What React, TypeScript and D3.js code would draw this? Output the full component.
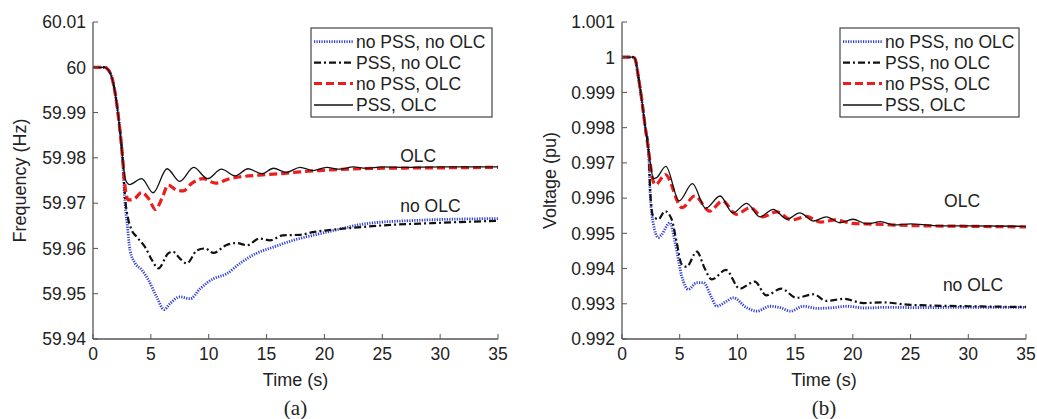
import React from "react";
import * as d3 from "d3";

type P = [number, number];

// ---------- Data: frequency (Hz) ----------
const freqDrop: P[] = [[0, 60], [1.0, 60], [1.3, 59.9995], [1.6, 59.998], [1.9, 59.9945], [2.2, 59.989], [2.55, 59.9802]];
const freqPssOlc: P[] = [[2.8, 59.9752], [3.15, 59.9741], [4.2, 59.9754], [5.2, 59.9723], [6.4, 59.9776], [7.5, 59.9748], [8.7, 59.9779], [9.9, 59.9754], [11.1, 59.9775], [12.3, 59.976], [13.4, 59.9776], [14.6, 59.9765], [15.6, 59.9777], [16.7, 59.9768], [17.9, 59.9779], [19.0, 59.9772], [20.2, 59.9779], [21.3, 59.9775], [22.5, 59.978], [23.6, 59.9777], [25, 59.978], [27, 59.9779], [30, 59.978], [35, 59.978]];
const freqNoPssOlc: P[] = [[2.8, 59.973], [3.05, 59.9707], [3.6, 59.971], [4.2, 59.9724], [4.8, 59.971], [5.4, 59.9686], [5.95, 59.971], [6.5, 59.974], [7.2, 59.9729], [7.8, 59.9727], [8.5, 59.9743], [9.5, 59.9754], [10.6, 59.9744], [11.8, 59.9754], [12.7, 59.9758], [14.4, 59.9762], [16.2, 59.9765], [17.9, 59.9769], [19.6, 59.9772], [22, 59.9775], [25, 59.9777], [30, 59.9778], [35, 59.9779]];
const freqPssNoOlc: P[] = [[2.8, 59.9705], [3.0, 59.967], [3.3, 59.9643], [3.8, 59.9625], [4.5, 59.9603], [5.1, 59.9574], [5.65, 59.9556], [6.5, 59.9589], [6.9, 59.9593], [7.5, 59.9578], [8.1, 59.9567], [9.0, 59.9596], [9.7, 59.96], [10.4, 59.959], [11.5, 59.9607], [12.4, 59.9612], [13.3, 59.9607], [14.4, 59.9622], [15.3, 59.9618], [16.4, 59.9629], [17.9, 59.963], [19, 59.9636], [20.2, 59.964], [22.2, 59.9645], [25.1, 59.9651], [29.4, 59.9656], [35, 59.9661]];
const freqNoPssNoOlc: P[] = [[2.75, 59.9705], [2.95, 59.9655], [3.2, 59.9596], [3.65, 59.9567], [4.2, 59.9553], [4.8, 59.953], [5.5, 59.9493], [6.15, 59.9465], [6.65, 59.9478], [7.5, 59.9493], [8.4, 59.9489], [9.25, 59.9511], [10.4, 59.9533], [11.55, 59.9544], [12.7, 59.9567], [14.1, 59.9589], [15.6, 59.9603], [17.3, 59.9618], [19, 59.9629], [20.2, 59.9636], [23.7, 59.9655], [28, 59.9662], [35, 59.9666]];

// ---------- Data: voltage (pu) ----------
const voltDrop: P[] = [[0, 1], [1.0, 1], [1.15, 0.99994], [1.4, 0.99948], [1.7, 0.99882], [2.0, 0.99805], [2.3, 0.99735]];
const voltPssOlc: P[] = [[2.5, 0.9969], [2.7, 0.99655], [3.0, 0.99658], [3.8, 0.9969], [4.95, 0.99592], [6.1, 0.99641], [7.25, 0.99571], [8.5, 0.99606], [9.6, 0.99558], [10.8, 0.99585], [11.95, 0.99547], [13.1, 0.99568], [14.3, 0.9954], [15.4, 0.99558], [16.6, 0.99535], [17.7, 0.99547], [18.9, 0.9953], [20, 0.9954], [21.2, 0.99527], [22.4, 0.99533], [23.6, 0.99524], [25, 0.99527], [27, 0.99522], [30, 0.99521], [35, 0.9952]];
const voltNoPssOlc: P[] = [[2.5, 0.99685], [2.7, 0.99648], [2.9, 0.99638], [3.75, 0.99667], [5.2, 0.99573], [6.3, 0.99606], [7.6, 0.99563], [8.7, 0.99592], [9.9, 0.99554], [11.1, 0.99573], [12.2, 0.99547], [13.4, 0.99561], [14.7, 0.99538], [16, 0.99548], [17.2, 0.99532], [18.5, 0.99538], [20, 0.99528], [22, 0.99526], [25, 0.99522], [30, 0.9952], [35, 0.99518]];
const voltPssNoOlc: P[] = [[2.45, 0.99615], [2.7, 0.99549], [3.15, 0.9954], [3.72, 0.99563], [4.3, 0.9954], [4.74, 0.99474], [5.17, 0.99412], [5.6, 0.99405], [6.47, 0.99448], [7.2, 0.99398], [7.77, 0.99369], [9.0, 0.99396], [10.2, 0.99343], [11.5, 0.99363], [12.5, 0.99324], [13.8, 0.99343], [15.1, 0.99317], [16.6, 0.99327], [17.7, 0.99308], [19.2, 0.99314], [20.9, 0.99302], [22.5, 0.99304], [25, 0.99297], [30, 0.99293], [35, 0.99291]];
const voltNoPssNoOlc: P[] = [[2.45, 0.99605], [2.7, 0.9953], [3.15, 0.99488], [3.4, 0.99495], [4.15, 0.9953], [4.6, 0.99474], [5.17, 0.99379], [5.75, 0.99341], [6.47, 0.9936], [7.05, 0.9936], [7.77, 0.99317], [8.2, 0.99293], [9.0, 0.99306], [9.64, 0.99317], [10.8, 0.99289], [11.7, 0.99279], [12.8, 0.99293], [13.7, 0.99289], [14.6, 0.99279], [15.7, 0.99293], [16.9, 0.99287], [18.3, 0.99289], [19.5, 0.99293], [21, 0.99288], [23, 0.9929], [26, 0.99289], [30, 0.9929], [35, 0.9929]];

// ---------- Ticks & labels ----------
const timeTicks = [0, 5, 10, 15, 20, 25, 30, 35];
const freqTicks = [59.94, 59.95, 59.96, 59.97, 59.98, 59.99, 60, 60.01];
const voltTicks = [0.992, 0.993, 0.994, 0.995, 0.996, 0.997, 0.998, 0.999, 1, 1.001];
const legendLabels = ["no PSS, no OLC", "PSS, no OLC", "no PSS, OLC", "PSS, OLC"];

const FONT = "'Liberation Sans', Arial, Helvetica, sans-serif";

const styles = [
  { stroke: "#2f3fd6", width: 2.8, dash: "1.2 1.3" },
  { stroke: "#111", width: 2.2, dash: "7 3 2 3" },
  { stroke: "#ee1c1c", width: 3.2, dash: "8 4" },
  { stroke: "#111", width: 1.3, dash: "" },
];

interface PanelProps {
  x0: number; x1: number; y0: number; y1: number;
  yDomain: [number, number];
  yTicks: number[]; decimals: number;
  series: P[][];
  yLabel: string; yLabelX: number;
  caption: string;
  legendX: number; legendW: number;
  olc: [number, number]; noOlc: [number, number];
}

function Panel(p: PanelProps) {
  const x = d3.scaleLinear().domain([0, 35]).range([p.x0, p.x1]);
  const y = d3.scaleLinear().domain(p.yDomain).range([p.y1, p.y0]);
  const line = d3.line<P>().x(d => x(d[0])).y(d => y(d[1])).curve(d3.curveMonotoneX);
  const axisColor = "#555";
  const cx = (p.x0 + p.x1) / 2;
  const rowY = [41.7, 62.7, 83.5, 105];
  return (
    <g fontFamily={FONT}>
      {p.series.map((s, i) => (
        <path key={i} d={line(s) || ""} fill="none" stroke={styles[i].stroke}
          strokeWidth={styles[i].width} strokeDasharray={styles[i].dash || undefined} />
      ))}
      <line x1={p.x0} x2={p.x0} y1={p.y0} y2={p.y1} stroke={axisColor} strokeWidth={1.3} />
      <line x1={p.x0} x2={p.x1} y1={p.y1} y2={p.y1} stroke={axisColor} strokeWidth={1.3} />
      {p.yTicks.map(t => (
        <g key={"y" + t}>
          <line x1={p.x0} x2={p.x0 + 5} y1={y(t)} y2={y(t)} stroke={axisColor} strokeWidth={1} />
          <text x={p.x0 - 7} y={y(t)} dy="0.36em" textAnchor="end" fontSize={17.5} fill="#222">
            {(+t.toFixed(p.decimals)).toString()}
          </text>
        </g>
      ))}
      {timeTicks.map(t => (
        <g key={"x" + t}>
          <line x1={x(t)} x2={x(t)} y1={p.y1} y2={p.y1 - 5} stroke={axisColor} strokeWidth={1} />
          <text x={x(t)} y={p.y1 + 21} textAnchor="middle" fontSize={17.5} fill="#222">{t}</text>
        </g>
      ))}
      <text x={cx} y={386} textAnchor="middle" fontSize={18} fill="#222">Time (s)</text>
      <text transform={`translate(${p.yLabelX},${(p.y0 + p.y1) / 2}) rotate(-90)`} textAnchor="middle"
        dy="0.35em" fontSize={18} fill="#222">{p.yLabel}</text>
      <text x={cx} y={415} textAnchor="middle" fontSize={21} fontFamily="'Liberation Serif', 'Times New Roman', serif" fill="#222">{p.caption}</text>
      <text x={x(p.olc[0])} y={y(p.olc[1])} fontSize={17.5} fill="#222">OLC</text>
      <text x={x(p.noOlc[0])} y={y(p.noOlc[1])} fontSize={17.5} fill="#222">no OLC</text>
      <rect x={p.legendX} y={28} width={p.legendW} height={89} fill="#fff" stroke="#444" strokeWidth={1.2} />
      {legendLabels.map((lab, i) => (
        <g key={lab}>
          <line x1={p.legendX + 3} x2={p.legendX + 42} y1={rowY[i]} y2={rowY[i]}
            stroke={styles[i].stroke} strokeWidth={styles[i].width} strokeDasharray={styles[i].dash || undefined} />
          <text x={p.legendX + 45} y={rowY[i]} dy="0.36em" fontSize={17.5} fill="#222">{lab}</text>
        </g>
      ))}
    </g>
  );
}

export default function App() {
  const fSeries = [
    [...freqDrop, ...freqNoPssNoOlc],
    [...freqDrop, ...freqPssNoOlc],
    [...freqDrop, ...freqNoPssOlc],
    [...freqDrop, ...freqPssOlc],
  ];
  const vSeries = [
    [...voltDrop, ...voltNoPssNoOlc],
    [...voltDrop, ...voltPssNoOlc],
    [...voltDrop, ...voltNoPssOlc],
    [...voltDrop, ...voltPssOlc],
  ];
  return (
    <svg width={1037} height={419} style={{ position: "absolute", left: 0, top: 0, background: "#fff" }}>
      <rect width={1037} height={419} fill="#fff" />
      <Panel x0={93} x1={498} y0={22} y1={339} yDomain={[59.94, 60.01]} yTicks={freqTicks} decimals={2}
        series={fSeries} yLabel="Frequency (Hz)" yLabelX={20} caption="(a)"
        legendX={311} legendW={181} olc={[26.55, 59.979]} noOlc={[26.55, 59.968]} />
      <Panel x0={622} x1={1026} y0={22} y1={339} yDomain={[0.992, 1.001]} yTicks={voltTicks} decimals={3}
        series={vSeries} yLabel="Voltage (pu)" yLabelX={550} caption="(b)"
        legendX={840} legendW={179} olc={[27.9, 0.99576]} noOlc={[27.8, 0.99337]} />
    </svg>
  );
}
